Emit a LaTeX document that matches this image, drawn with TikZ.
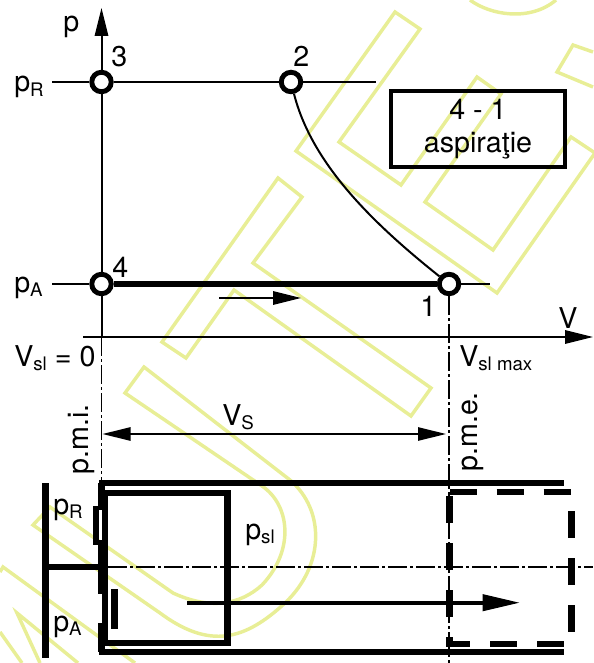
\documentclass[tikz,border=0pt]{standalone}
\usepackage{fontspec}
\setmainfont{TeX Gyre Heros}
\usetikzlibrary{arrows.meta}
\usepackage{xcolor}
\definecolor{stampyellow}{RGB}{232,238,150}

\newcommand{\lowsub}[1]{{\fontsize{14}{16}\selectfont\raisebox{-3.6pt}{#1}}}

\begin{document}
\begin{tikzpicture}[
        x=0.75pt, y=-0.75pt,
        lab/.style={inner sep=0pt, anchor=base west, font=\fontsize{21.5}{25}\selectfont},
        vertlab/.style={lab, rotate=90},
        statept/.style={circle, draw, fill=white, line width=3.7pt, inner sep=0pt, minimum size=14.6pt},
        thinline/.style={line width=1.5pt},
        heavyline/.style={line width=5pt},
        arrow/.style={-{Triangle[length=21pt,width=10pt]}, line width=1.5pt},
        dimarrow/.style={{Triangle[length=21pt,width=10pt]}-{Triangle[length=21pt,width=10pt]}, line width=1.2pt},
        axisdash/.style={line width=1.2pt, dash pattern=on 14pt off 2.5pt on 2pt off 2.5pt},
        wall/.style={line width=4.8pt},
        piston/.style={line width=5.2pt},
        stamp/.style={draw=stampyellow, line width=2.6pt, line join=miter},
        infobox/.style={draw, line width=2.8pt, align=center, minimum width=130pt, minimum height=57pt,
                        inner sep=0pt, font=\fontsize{21.5}{24.75}\selectfont},
    ]

    \useasboundingbox (0,0) rectangle (593,663);

    % ---------- faint stamp behind the drawing ----------------------------
    \draw[stamp] (395,12) -- (420,29) -- (339,142) -- (401,185) -- (477,77) -- (501,94) -- (425,202)
        -- (493,250) -- (571,137) -- (595,153) -- (497,293) -- (296,151) -- cycle;
    \draw[stamp] (278,178) -- (302,197) -- (253,263) -- (431,388) -- (411,416) -- (234,290)
        -- (186,358) -- (162,342) -- cycle;
    \draw[stamp] (144,367) -- (125,393) -- (262,486) .. controls (290,505) and (295,550) .. (262,585)
        .. controls (240,605) and (210,610) .. (173,593) -- (50,507) -- (33,525) -- (160,613)
        .. controls (210,650) and (245,640) .. (285,603) .. controls (325,565) and (325,510) .. (290,480) -- cycle;
    \draw[stamp] (0,572) -- (3,567) -- (135,663);
    \draw[stamp] (40,663) -- (17,613) -- (78,663);
    \draw[stamp] (0,632) -- (22,663);
    \draw[stamp] (470,0) .. controls (490,15) and (530,22) .. (556,0);
    \draw[stamp] (593,52) -- (573,45) -- (557,72) -- (593,87);

    % ---------- free ends of the axes --------------------------------------
    \coordinate (ptip) at (101.5,8);
    \coordinate (vstart) at (83,337);
    \coordinate (vtip) at (593,337);
    \coordinate (origin) at (101.5,337);
    \coordinate (vmax) at (449,337);
    \coordinate (prstart) at (52,82);
    \coordinate (prend) at (376,82);
    \coordinate (pastart) at (52,284);
    \coordinate (paend) at (490,284);

    % ---------- states of the cycle ----------------------------------------
    \node[statept] (three) at (101.5,82) {};
    \node[statept] (two)   at (291,82) {};
    \node[statept] (four)  at (101.5,284) {};
    \node[statept] (one)   at (449,284) {};

    \draw[arrow] (three) -- (ptip);
    \draw[thinline] (three) -- (four);
    \draw[thinline] (four) -- (origin);
    \draw[arrow] (vstart) -- (vtip);
    \draw[thinline] (prstart) -- (three);
    \draw[thinline] (three) -- (two);
    \draw[thinline] (two) -- (prend);
    \draw[thinline] (pastart) -- (four);
    \draw[thinline] (one) -- (paend);
    \draw[heavyline] (four) -- (one);
    \draw[thinline] (two) .. controls (312,165) and (375,225) .. (one);

    % direction of the stroke
    \coordinate (strokea) at (219,298);
    \coordinate (strokeb) at (301,298);
    \draw[arrow] (strokea) -- (strokeb);

    % ---------- labels of the diagram --------------------------------------
    \node[lab] (plab)  at (63,32) {p};
    \node[lab] (vlab)  at (558,328) {V};
    \node[lab] (prlab) at (14,92) {p\lowsub{R}};
    \node[lab] (palab) at (14,292) {p\lowsub{A}};
    \node[lab] (nthree) at (111,67) {3};
    \node[lab] (ntwo)   at (293,67) {2};
    \node[lab] (nfour)  at (112,277) {4};
    \node[lab] (none)   at (420,316) {1};
    \node[lab] (vzero)  at (14,366) {V\lowsub{sl} = 0};
    \node[lab] (vmaxlab) at (459,366) {V\lowsub{sl max}};

    \node[infobox] (phase) at (478,129) {4 - 1\\aspiraţie};

    % ---------- dead centres and stroke --------------------------------------
    \coordinate (pmidown) at (101.5,481);
    \coordinate (pmedown) at (449,663);
    \draw[axisdash] (origin) -- (pmidown);
    \draw[axisdash] (one) -- (pmedown);

    \node[vertlab] (pmi) at (88,475) {p.m.i.};
    \node[vertlab] (pme) at (477,472) {p.m.e.};

    \coordinate (strokeleft) at (102.5,434);
    \coordinate (strokeright) at (446,434);
    \draw[dimarrow] (strokeleft) -- (strokeright);
    \node[lab] (vslab) at (222,425) {V\lowsub{S}};

    % ---------- cylinder -------------------------------------------------------
    \draw[wall] (99,483) -- (564,483);
    \draw[wall] (99,652) -- (564,652);
    \draw[wall] (101.5,483) -- (101.5,506);
    \draw[wall] (101.5,544) -- (101.5,594);
    \draw[wall] (101.5,623) -- (101.5,652);

    % valves
    \draw[line width=4.8pt] (95.7,505.5) -- (95.7,544.5);
    \draw[line width=3.6pt] (93,508) -- (102,508);
    \draw[line width=3.6pt] (93,542) -- (102,542);
    \draw[line width=4.8pt] (114.3,589) -- (114.3,629);

    % piston at both ends of the stroke
    \draw[piston] (105,493) rectangle (227.5,643);
    \draw[piston, dash pattern=on 20.25pt off 15pt] (449.7,492) -- (571.7,492) -- (571.7,644) -- (449.7,644) -- cycle;

    % rod and plate
    \draw[piston] (45.7,483) -- (45.7,658);
    \draw[wall] (45.7,567) -- (101,567);
    \draw[axisdash] (108,567) -- (593,567);

    \coordinate (runa) at (187,602.7);
    \coordinate (runb) at (520,602.7);
    \draw[-{Triangle[length=28pt,width=12pt]}, line width=3pt] (runa) -- (runb);

    \node[lab] (psl)    at (245,539) {p\lowsub{sl}};
    \node[lab] (prtwo)  at (53,514) {p\lowsub{R}};
    \node[lab] (patwo)  at (53,631) {p\lowsub{A}};

\end{tikzpicture}
\end{document}
